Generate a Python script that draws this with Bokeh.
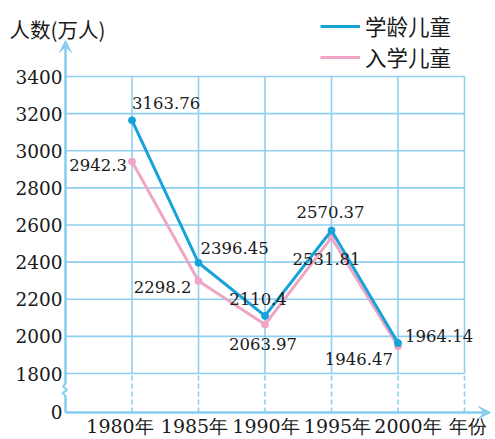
from bokeh.plotting import figure
from bokeh.models import (Range1d, Arrow, VeeHead, Legend, LegendItem, ColumnDataSource)
from bokeh.core.properties import value
from bokeh.embed import file_html
from bokeh.resources import INLINE

# ---- data ----
years = [1980, 1985, 1990, 1995, 2000]
year_labels = ["1980年", "1985年", "1990年", "1995年", "2000年"]
school_age = [3163.76, 2396.45, 2110.4, 2570.37, 1964.14]
enrolled = [2942.3, 2298.2, 2063.97, 2531.81, 1946.47]
y_ticks = [1800, 2000, 2200, 2400, 2600, 2800, 3000, 3200, 3400]
y_tick_labels = [str(v) for v in y_ticks]
zero_label = "0"
series_names = ["学龄儿童", "入学儿童"]
y_title = "人数(万人)"
x_title = "年份"

# ---- layout / styles ----
BLUE = "#16a3d9"
PINK = "#f0a5c4"
GRID = "#8fd0f0"
AXIS = "#86cdef"
TXT = "#1a1a1a"

W, H = 495, 439
AXIS_X = 65          # px of the y axis line
PX_PER_YEAR = 13.3
PX_PER_UNIT = 297 / 1600
TOP_TICK_PX = 76     # px of the top grid line
x_axis_year = 1975
y0 = 1590            # value where the broken-axis "0" sits
x_start = x_axis_year - AXIS_X / PX_PER_YEAR
x_end = x_axis_year + (W - AXIS_X) / PX_PER_YEAR
y_end = y_ticks[-1] + TOP_TICK_PX / PX_PER_UNIT
y_start = y_ticks[-1] - (H - TOP_TICK_PX) / PX_PER_UNIT
last_col = 2005
cols = years + [last_col]

p = figure(width=W, height=H, x_range=Range1d(x_start, x_end),
           y_range=Range1d(y_start, y_end),
           output_backend="svg", toolbar_location=None,
           min_border_left=0, min_border_right=0, min_border_top=0,
           min_border_bottom=0, outline_line_color=None)
p.xgrid.visible = False
p.ygrid.visible = False
p.xaxis.visible = False
p.yaxis.visible = False

# grid
n = len(y_ticks)
p.segment(x0=[x_axis_year] * n, y0=y_ticks, x1=[last_col] * n, y1=y_ticks,
          line_color=GRID, line_width=1.6)
p.segment(x0=cols, y0=[y_ticks[0]] * len(cols), x1=cols, y1=[y_ticks[-1]] * len(cols),
          line_color=GRID, line_width=1.6)
p.segment(x0=cols, y0=[y0] * len(cols), x1=cols, y1=[y_ticks[0]] * len(cols),
          line_color=GRID, line_width=1.6, line_dash="5 3")

# axis lines with arrows and break mark
brk_lo, brk_hi = 1680, 1745
y_top = y_ticks[-1] + 36 / PX_PER_UNIT
x_tip = x_axis_year + (490 - AXIS_X) / PX_PER_YEAR
p.add_layout(Arrow(x_start=x_axis_year, y_start=brk_hi, x_end=x_axis_year, y_end=y_top,
                   line_color=AXIS, line_width=2.5,
                   end=VeeHead(size=12, fill_color=AXIS, line_color=AXIS)))
p.add_layout(Arrow(x_start=x_axis_year, y_start=y0, x_end=x_tip, y_end=y0,
                   line_color=AXIS, line_width=2.5,
                   end=VeeHead(size=12, fill_color=AXIS, line_color=AXIS)))
p.line([x_axis_year, x_axis_year], [y0, brk_lo], line_color=AXIS, line_width=2.5)
zx = 1 / PX_PER_YEAR
p.line([x_axis_year, x_axis_year - 3 * zx, x_axis_year + 1.5 * zx,
        x_axis_year - 2.5 * zx, x_axis_year],
       [brk_lo, brk_lo + 14, brk_lo + 32, brk_lo + 50, brk_hi],
       line_color=AXIS, line_width=2)

# y tick labels
yt_src = ColumnDataSource(dict(x=[x_axis_year] * (n + 1), y=[y0] + y_ticks,
                               t=[zero_label] + y_tick_labels))
p.text(x="x", y="y", text="t", x_offset=-3, text_align="right",
       text_baseline="middle", text_font=value("DejaVu Serif"),
       text_font_size="18.5px", text_color=TXT, source=yt_src)

# data
r_pink = p.line(years, enrolled, line_color=PINK, line_width=3)
p.scatter(years, enrolled, size=7, color=PINK)
r_blue = p.line(years, school_age, line_color=BLUE, line_width=3)
p.scatter(years, school_age, size=7, color=BLUE)

# value labels
blue_src = ColumnDataSource(dict(
    x=years, y=school_age, t=[str(v) for v in school_age],
    dx=[0, 2, -7, -1, 7], dy=[-17, -15, -17, -19, -7],
    al=["left", "left", "center", "center", "left"]))
pink_src = ColumnDataSource(dict(
    x=years, y=enrolled, t=[str(v) for v in enrolled],
    dx=[-5, -7, -2, -5, -5], dy=[4, 6, 19, 21, 13],
    al=["right", "right", "center", "center", "right"]))
for src in (blue_src, pink_src):
    p.text(x="x", y="y", text="t", x_offset="dx", y_offset="dy", text_align="al",
           text_baseline="middle", text_font=value("DejaVu Serif"),
           text_font_size="16.5px", text_color=TXT, source=src)

# x category labels and x title
xl_src = ColumnDataSource(dict(
    x=cols, y=[y0] * len(cols), t=year_labels + [x_title],
    dx=[-12, -4, 1, 6, 10, 3]))
p.text(x="x", y="y", text="t", x_offset="dx", y_offset=14, text_align="center",
       text_baseline="middle", text_font=value("DejaVu Serif"),
       text_font_size="19px", text_color=TXT, source=xl_src)

# y title
yt_title_src = ColumnDataSource(dict(x=[x_axis_year], y=[y_ticks[-1]], t=[y_title]))
p.text(x="x", y="y", text="t", x_offset=9 - AXIS_X, y_offset=28.5 - TOP_TICK_PX,
       text_align="left", text_baseline="middle",
       text_font=value("Noto Sans CJK SC"), text_font_size="20.5px",
       text_color=TXT, source=yt_title_src)

# legend
legend = Legend(items=[LegendItem(label=series_names[0], renderers=[r_blue]),
                       LegendItem(label=series_names[1], renderers=[r_pink])],
                location=(320, H - 72), orientation="vertical",
                glyph_width=40, glyph_height=20, label_height=20,
                spacing=0, padding=0, margin=0, label_standoff=5,
                border_line_color=None, background_fill_alpha=0,
                label_text_font="Noto Sans CJK SC", label_text_font_size="21.5px",
                label_text_color=TXT)
p.add_layout(legend)

open("out.html", "w").write(file_html(p, INLINE))
